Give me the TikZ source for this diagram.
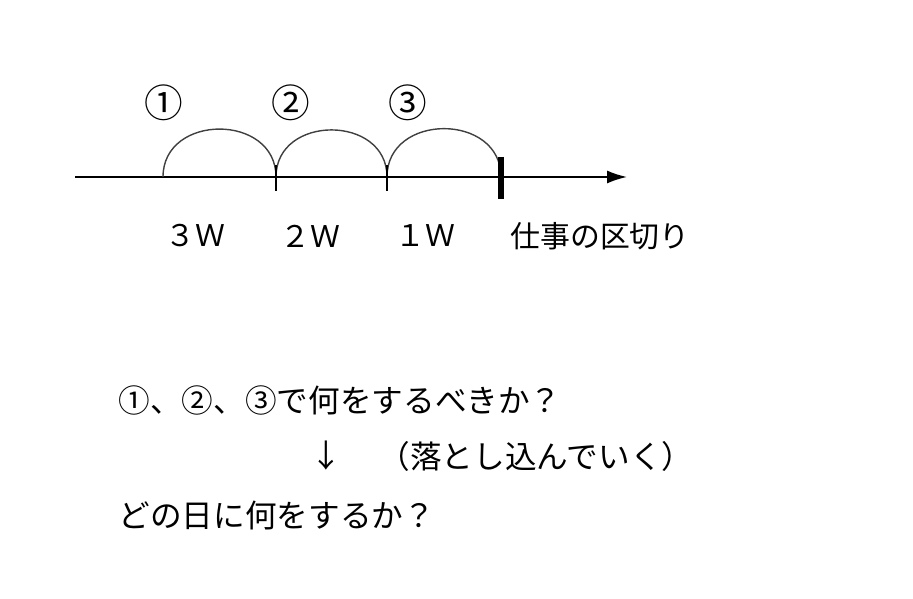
\documentclass[tikz,border=0pt]{standalone}
\usepackage{fontspec}
\setmainfont{Noto Sans CJK JP}
\usetikzlibrary{arrows.meta,calc}

\begin{document}
\begin{tikzpicture}
        \tikzstyle{txt}=[inner sep=0pt, font=\fontsize{8.5}{10}\selectfont]
        \tikzstyle{big}=[inner sep=0pt, font=\fontsize{9}{11}\selectfont]
        \tikzstyle{num}=[inner sep=0pt, font=\fontsize{11}{13}\selectfont]
        \tikzstyle{hop}=[draw=black!75, line width=0.4pt]
        \useasboundingbox (0,0) rectangle (9.13,5.98);

        \coordinate (s)  at (0.75,4.21);
        \coordinate (t)  at (6.27,4.21);
        \coordinate (w3) at (1.63,4.21);
        \coordinate (w2) at (2.76,4.21);
        \coordinate (w1) at (3.87,4.21);
        \coordinate (e)  at (5.01,4.21);

        \draw[line width=0.5pt, -{Latex[length=2mm,width=1.3mm]}] (s) -- (t);
        \draw[hop] (w3) to[out=90, in=90, looseness=1.45] (w2);
        \draw[hop] (w2) to[out=90, in=90, looseness=1.45] (w1);
        \draw[hop] (w1) to[out=90, in=90, looseness=1.45] (e);
        \draw[line width=0.5pt] ($(w2)+(0,0.12)$) -- ($(w2)+(0,-0.14)$);
        \draw[line width=0.5pt] ($(w1)+(0,0.12)$) -- ($(w1)+(0,-0.14)$);
        \draw[line width=1.5pt] ($(e)+(0,0.2)$) -- ($(e)+(0,-0.22)$);

        \node[num] (c1) at (1.64,4.95) {①};
        \node[num] (c2) at (2.91,4.95) {②};
        \node[num] (c3) at (4.08,4.95) {③};

        \node[txt] (l3) at (1.95,3.62) {３Ｗ};
        \node[txt] (l2) at (3.10,3.62) {２Ｗ};
        \node[txt] (l1) at (4.25,3.62) {１Ｗ};
        \node[txt] (lk) at (6.00,3.62) {仕事の区切り};

        \node[big, anchor=west] (q1) at (1.18,1.98) {①、②、③で何をするべきか？};
        \node[big] (dn) at (3.26,1.42) {↓};
        \node[big, anchor=west] (ot) at (3.78,1.42) {（落とし込んでいく）};
        \node[big, anchor=west] (q2) at (1.18,0.83) {どの日に何をするか？};
\end{tikzpicture}
\end{document}
